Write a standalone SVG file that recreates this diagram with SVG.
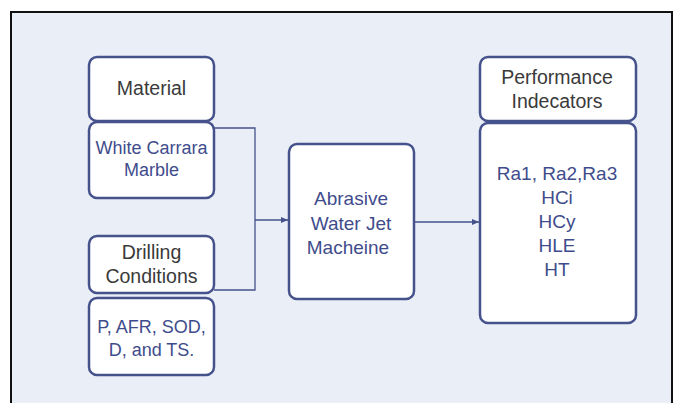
<svg xmlns="http://www.w3.org/2000/svg" width="677" height="403" viewBox="0 0 677 403">
<defs>
<style>
.box{fill:#fff;stroke:#46528C;stroke-width:2.5}
.hd{font-family:"Liberation Sans",Arial,sans-serif;font-size:19.5px;fill:#3a3a3a;text-anchor:middle}
.bd{font-family:"Liberation Sans",Arial,sans-serif;font-size:18px;fill:#3F4C8C;text-anchor:middle}
.lg{font-size:19px}
.cn{fill:none;stroke:#46528C;stroke-width:1.3}
</style>
<marker id="ah" markerWidth="8" markerHeight="8" refX="7" refY="4" orient="auto" markerUnits="userSpaceOnUse">
<path d="M0,1 L7,4 L0,7 Z" fill="#46528C"/>
</marker>
</defs>
<rect x="0" y="0" width="677" height="403" fill="#fff"/>
<rect x="11" y="12" width="661" height="400" fill="#EAEEF7" stroke="#111" stroke-width="2"/>
<g id="connectors">
<path class="cn" d="M214,128 H255 V290 H214"/>
<path class="cn" d="M255,220 H288" stroke-width="2" marker-end="url(#ah)"/>
<path class="cn" d="M414,222 H479" marker-end="url(#ah)"/>
</g>
<g id="material">
<rect class="box" x="89" y="57" width="125" height="64" rx="8"/>
<text class="hd" x="151.5" y="95">Material</text>
</g>
<g id="marble">
<rect class="box" x="89" y="122" width="125" height="76" rx="8"/>
<text class="bd" x="151.5" y="154">White Carrara</text>
<text class="bd" x="151.5" y="176">Marble</text>
</g>
<g id="drilling">
<rect class="box" x="89" y="236" width="125" height="57" rx="8"/>
<text class="hd" x="151.5" y="259">Drilling</text>
<text class="hd" x="151.5" y="283">Conditions</text>
</g>
<g id="params">
<rect class="box" x="89" y="298" width="125" height="77" rx="8"/>
<text class="bd" x="151.5" y="333">P, AFR, SOD,</text>
<text class="bd" x="151.5" y="356">D, and TS.</text>
</g>
<g id="awj">
<rect class="box" x="289" y="144" width="125" height="155" rx="8"/>
<text class="bd lg" x="351" y="205">Abrasive</text>
<text class="bd lg" x="351" y="230">Water Jet</text>
<text class="bd lg" x="348" y="254">Macheine</text>
</g>
<g id="performance">
<rect class="box" x="480" y="57" width="156" height="64" rx="8"/>
<text class="hd" x="557" y="84">Performance</text>
<text class="hd" x="557" y="108">Indecators</text>
</g>
<g id="indicators">
<rect class="box" x="480" y="123" width="156" height="200" rx="8"/>
<text class="bd lg" x="557" y="180">Ra1, Ra2,Ra3</text>
<text class="bd lg" x="557" y="204">HCi</text>
<text class="bd lg" x="557" y="228">HCy</text>
<text class="bd lg" x="557" y="252">HLE</text>
<text class="bd lg" x="557" y="276">HT</text>
</g>
</svg>
